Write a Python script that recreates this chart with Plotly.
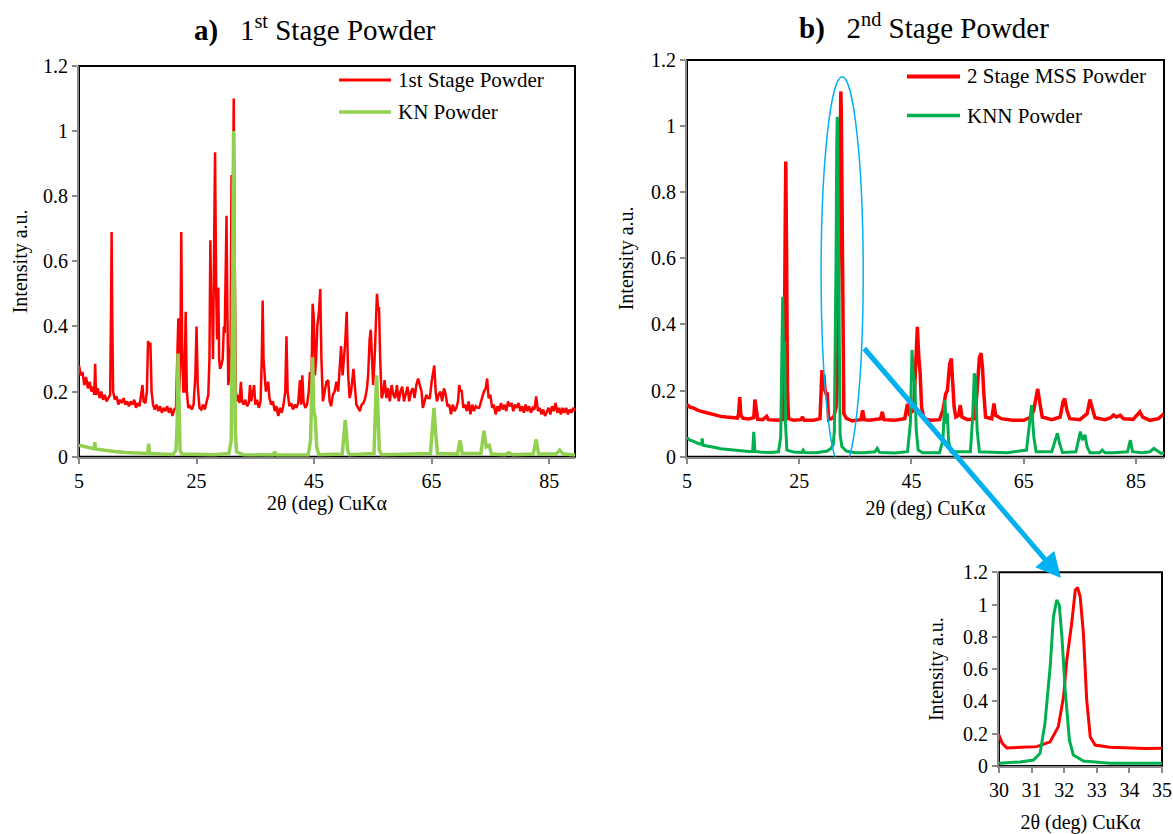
import plotly.graph_objects as go

# ---------------- data ----------------
# a) 1st stage powder vs KN powder
first_stage_x = [5.0, 5.3, 5.6, 5.9, 6.2, 6.5, 6.8, 7.1, 7.4, 7.6, 7.75, 7.9, 8.2, 8.5, 8.8, 9.1, 9.4, 9.7,
                 10.0, 10.3, 10.45, 10.55, 10.65, 10.8, 11.1, 11.4, 11.7, 12.0, 12.3, 12.6, 12.9, 13.2, 13.5,
                 13.8, 14.1, 14.4, 14.7, 15.0, 15.3, 15.6, 15.8, 16.0, 16.3, 16.55, 16.75, 16.95, 17.15, 17.35,
                 17.6, 17.9, 18.2, 18.5, 18.8, 19.1, 19.4, 19.7, 20.0, 20.3, 20.6, 20.9, 21.2, 21.5, 21.75,
                 21.9, 22.05, 22.25, 22.4, 22.55, 22.75, 22.95, 23.15, 23.35, 23.6, 23.9, 24.2, 24.5, 24.8,
                 25.0, 25.2, 25.5, 25.8, 26.1, 26.4, 26.7, 27.0, 27.2, 27.35, 27.5, 27.65, 27.8, 27.95, 28.15,
                 28.35, 28.5, 28.7, 28.85, 29.0, 29.2, 29.45, 29.65, 29.8, 30.0, 30.1, 30.25, 30.4, 30.6,
                 30.8, 30.95, 31.05, 31.2, 31.33, 31.5, 31.7, 31.9, 32.1, 32.3, 32.55, 32.75, 33.0, 33.3,
                 33.6, 33.9, 34.1, 34.3, 34.6, 34.8, 35.0, 35.3, 35.6, 35.9, 36.1, 36.25, 36.4, 36.6, 36.8,
                 37.0, 37.2, 37.4, 37.7, 38.0, 38.3, 38.6, 38.9, 39.2, 39.5, 39.8, 40.1, 40.3, 40.5, 40.8,
                 41.1, 41.4, 41.7, 42.0, 42.3, 42.6, 42.8, 43.0, 43.2, 43.5, 43.8, 44.1, 44.3, 44.55, 44.75,
                 44.95, 45.15, 45.35, 45.55, 45.85, 46.05, 46.25, 46.5, 46.8, 47.1, 47.4, 47.65, 47.9, 48.2,
                 48.5, 48.8, 49.1, 49.35, 49.6, 49.85, 50.1, 50.3, 50.55, 50.8, 51.05, 51.3, 51.7, 51.95,
                 52.2, 52.5, 52.8, 53.1, 53.4, 53.7, 54.0, 54.2, 54.45, 54.65, 54.85, 55.05, 55.3, 55.5,
                 55.7, 55.9, 56.05, 56.25, 56.5, 56.8, 57.0, 57.3, 57.6, 57.9, 58.2, 58.5, 58.8, 59.1, 59.4,
                 59.7, 60.0, 60.3, 60.6, 60.9, 61.2, 61.5, 61.8, 62.1, 62.4, 62.7, 63.0, 63.3, 63.5, 63.8,
                 64.1, 64.4, 64.7, 65.0, 65.2, 65.45, 65.7, 65.9, 66.2, 66.5, 66.8, 67.1, 67.4, 67.7, 68.0,
                 68.3, 68.6, 68.9, 69.2, 69.5, 69.7, 69.9, 70.1, 70.4, 70.7, 71.0, 71.3, 71.6, 71.9, 72.2,
                 72.5, 72.8, 73.1, 73.4, 73.7, 73.9, 74.2, 74.45, 74.7, 75.0, 75.3, 75.6, 75.9, 76.2, 76.5,
                 76.8, 77.1, 77.4, 77.7, 78.0, 78.3, 78.6, 78.9, 79.2, 79.5, 79.8, 80.1, 80.4, 80.7, 81.0,
                 81.3, 81.6, 81.9, 82.2, 82.5, 82.8, 83.1, 83.4, 83.7, 84.0, 84.3, 84.6, 84.9, 85.2, 85.5,
                 85.8, 86.1, 86.4, 86.7, 87.0, 87.3, 87.6, 87.9, 88.2, 88.5, 88.8, 89.1, 89.4]
first_stage_y = [0.28, 0.25, 0.26, 0.22, 0.245, 0.21, 0.23, 0.2, 0.215, 0.19, 0.285, 0.19, 0.21, 0.18, 0.2,
                 0.175, 0.19, 0.17, 0.18, 0.19, 0.45, 0.69, 0.45, 0.2, 0.175, 0.185, 0.16, 0.175, 0.165, 0.18,
                 0.16, 0.17, 0.155, 0.17, 0.16, 0.175, 0.15, 0.165, 0.155, 0.19, 0.22, 0.17, 0.165, 0.2, 0.355,
                 0.34, 0.35, 0.2, 0.16, 0.145, 0.16, 0.14, 0.155, 0.135, 0.15, 0.14, 0.155, 0.135, 0.15, 0.125,
                 0.145, 0.15, 0.3, 0.425, 0.2, 0.3, 0.69, 0.35, 0.2, 0.2, 0.445, 0.2, 0.15, 0.155, 0.145, 0.16,
                 0.25, 0.4, 0.22, 0.15, 0.145, 0.16, 0.145, 0.17, 0.19, 0.3, 0.665, 0.45, 0.48, 0.3, 0.5, 0.935,
                 0.5, 0.36, 0.52, 0.3, 0.27, 0.28, 0.3, 0.4, 0.38, 0.6, 0.74, 0.45, 0.22, 0.25, 0.35, 0.865, 0.5,
                 0.8, 1.1, 0.6, 0.2, 0.17, 0.19, 0.165, 0.23, 0.17, 0.16, 0.175, 0.155, 0.165, 0.22, 0.17, 0.2,
                 0.22, 0.16, 0.175, 0.15, 0.17, 0.3, 0.48, 0.3, 0.26, 0.2, 0.22, 0.23, 0.18, 0.16, 0.17, 0.14,
                 0.155, 0.125, 0.15, 0.135, 0.16, 0.2, 0.37, 0.2, 0.155, 0.165, 0.145, 0.16, 0.15, 0.165, 0.235,
                 0.16, 0.25, 0.17, 0.15, 0.16, 0.2, 0.26, 0.22, 0.47, 0.43, 0.25, 0.3, 0.4, 0.45, 0.515, 0.3,
                 0.17, 0.2, 0.23, 0.235, 0.17, 0.155, 0.19, 0.2, 0.23, 0.2, 0.27, 0.34, 0.25, 0.3, 0.35, 0.445,
                 0.25, 0.18, 0.2, 0.27, 0.2, 0.16, 0.15, 0.14, 0.16, 0.165, 0.18, 0.21, 0.25, 0.36, 0.39, 0.3,
                 0.22, 0.3, 0.42, 0.5, 0.45, 0.46, 0.3, 0.18, 0.2, 0.235, 0.18, 0.21, 0.17, 0.22, 0.19, 0.18,
                 0.22, 0.17, 0.2, 0.215, 0.17, 0.19, 0.215, 0.17, 0.2, 0.21, 0.18, 0.22, 0.24, 0.22, 0.2, 0.15,
                 0.17, 0.19, 0.18, 0.18, 0.23, 0.25, 0.28, 0.2, 0.17, 0.19, 0.2, 0.17, 0.21, 0.19, 0.155, 0.16,
                 0.13, 0.16, 0.14, 0.15, 0.17, 0.22, 0.2, 0.205, 0.15, 0.16, 0.14, 0.17, 0.13, 0.16, 0.14,
                 0.155, 0.15, 0.15, 0.17, 0.19, 0.2, 0.21, 0.24, 0.18, 0.19, 0.15, 0.16, 0.13, 0.155, 0.14,
                 0.165, 0.145, 0.16, 0.14, 0.17, 0.155, 0.165, 0.14, 0.16, 0.15, 0.165, 0.14, 0.155, 0.135,
                 0.16, 0.14, 0.155, 0.135, 0.15, 0.145, 0.185, 0.14, 0.15, 0.13, 0.145, 0.125, 0.14, 0.15,
                 0.13, 0.155, 0.14, 0.165, 0.135, 0.15, 0.13, 0.15, 0.135, 0.15, 0.13, 0.145, 0.135, 0.15, 0.14]

kn_x = [5.0, 6.0, 7.0, 7.6, 7.7, 7.8, 9.0, 11.0, 13.0, 15.0, 16.7, 16.85, 17.0, 19.0, 21.0, 21.5, 21.7,
        21.85, 22.0, 22.2, 22.5, 25.0, 28.0, 30.5, 30.9, 31.1, 31.3, 31.45, 31.6, 31.8, 33.0, 38.0, 38.3,
        38.6, 44.0, 44.4, 44.6, 44.75, 44.95, 45.2, 45.45, 45.8, 49.8, 50.1, 50.3, 50.5, 50.7, 51.0, 55.2,
        55.45, 55.65, 55.85, 56.1, 56.5, 64.8, 65.1, 65.4, 65.7, 66.0, 69.4, 69.85, 70.2, 73.4, 73.9, 74.3,
        74.8, 75.2, 77.5, 78.1, 78.8, 82.3, 82.8, 83.2, 86.2, 86.8, 87.4, 89.4]
kn_y = [0.035, 0.03, 0.027, 0.025, 0.045, 0.024, 0.02, 0.016, 0.013, 0.011, 0.01, 0.04, 0.01, 0.008, 0.007,
        0.02, 0.1, 0.317, 0.12, 0.02, 0.008, 0.006, 0.006, 0.01, 0.05, 0.4, 1.0, 0.5, 0.08, 0.015, 0.006,
        0.005, 0.015, 0.005, 0.005, 0.05, 0.2, 0.305, 0.14, 0.12, 0.03, 0.006, 0.008, 0.06, 0.113, 0.075,
        0.02, 0.006, 0.01, 0.15, 0.25, 0.15, 0.02, 0.006, 0.01, 0.08, 0.15, 0.07, 0.01, 0.008, 0.05, 0.01,
        0.01, 0.08, 0.03, 0.035, 0.008, 0.006, 0.012, 0.006, 0.008, 0.053, 0.008, 0.008, 0.02, 0.008, 0.005]

# b) 2nd stage MSS powder vs KNN powder
mss_x = [5.0, 5.5, 6.0, 7.0, 8.0, 9.0, 10.0, 11.0, 12.0, 13.0, 14.0, 14.2, 14.4, 14.6, 15.0, 16.0, 16.9,
         17.1, 17.35, 17.6, 18.5, 19.2, 19.5, 21.0, 22.0, 22.3, 22.5, 22.6, 22.75, 22.9, 23.1, 24.0, 25.3,
         25.6, 25.9, 27.5, 28.7, 28.9, 29.05, 29.2, 29.4, 29.6, 29.8, 30.0, 30.1, 30.24, 30.65, 31.16,
         31.57, 31.82, 31.98, 32.08, 32.23, 32.34, 32.41, 32.49, 32.59, 32.69, 32.8, 32.95, 33.4, 34.0,
         34.5, 35.0, 36.0, 36.3, 36.6, 37.5, 39.5, 39.8, 40.1, 42.0, 43.8, 44.3, 44.6, 45.4, 45.8, 46.05,
         46.3, 46.55, 46.8, 47.2, 48.5, 50.0, 50.6, 50.9, 51.1, 51.4, 51.8, 52.1, 52.35, 52.6, 52.9, 53.4,
         53.7, 54.0, 55.0, 56.3, 56.7, 57.1, 57.4, 57.65, 57.9, 58.2, 59.3, 59.7, 60.0, 61.0, 63.0, 65.0,
         66.3, 66.8, 67.1, 67.5, 67.9, 68.3, 70.0, 71.5, 72.0, 72.3, 72.7, 73.2, 75.0, 76.3, 76.8, 77.2,
         77.7, 79.5, 80.5, 81.0, 81.5, 82.2, 82.8, 84.5, 85.3, 85.7, 86.2, 87.5, 89.0, 90.0]
mss_y = [0.158, 0.15, 0.148, 0.14, 0.135, 0.13, 0.126, 0.122, 0.12, 0.118, 0.117, 0.13, 0.18, 0.125, 0.116,
         0.114, 0.118, 0.173, 0.13, 0.113, 0.112, 0.122, 0.112, 0.11, 0.112, 0.2, 0.7, 0.893, 0.6, 0.2,
         0.115, 0.11, 0.112, 0.12, 0.11, 0.11, 0.115, 0.2, 0.262, 0.2, 0.248, 0.2, 0.19, 0.19, 0.14, 0.112,
         0.115, 0.12, 0.15, 0.244, 0.43, 0.657, 0.884, 1.09, 1.105, 1.05, 0.82, 0.41, 0.18, 0.13, 0.116,
         0.112, 0.108, 0.11, 0.112, 0.14, 0.112, 0.11, 0.115, 0.136, 0.112, 0.11, 0.115, 0.16, 0.13, 0.14,
         0.3, 0.393, 0.3, 0.252, 0.15, 0.115, 0.11, 0.112, 0.14, 0.18, 0.19, 0.2, 0.28, 0.297, 0.24, 0.15,
         0.12, 0.125, 0.156, 0.12, 0.112, 0.115, 0.2, 0.3, 0.313, 0.27, 0.19, 0.12, 0.115, 0.161, 0.125,
         0.115, 0.11, 0.11, 0.12, 0.141, 0.17, 0.205, 0.16, 0.12, 0.112, 0.12, 0.165, 0.176, 0.14, 0.115,
         0.112, 0.13, 0.173, 0.15, 0.118, 0.112, 0.118, 0.126, 0.12, 0.125, 0.115, 0.113, 0.13, 0.136, 0.12,
         0.11, 0.115, 0.13]

knn_x = [5.0, 5.5, 6.0, 7.0, 7.6, 7.7, 7.85, 9.0, 10.0, 11.0, 12.0, 13.0, 14.0, 15.0, 16.0, 16.7, 16.9,
         17.1, 18.0, 20.0, 21.3, 21.7, 21.9, 22.05, 22.2, 22.4, 22.55, 22.8, 24.0, 25.5, 25.7, 26.0, 28.0,
         30.0, 30.65, 31.06, 31.26, 31.41, 31.57, 31.67, 31.77, 31.85, 31.93, 32.03, 32.16, 32.28, 32.59,
         33.4, 35.0, 36.5, 38.5, 38.9, 39.3, 42.0, 44.3, 44.8, 45.1, 45.3, 45.6, 45.85, 46.2, 47.0, 50.0,
         50.6, 50.95, 51.2, 51.4, 51.6, 52.0, 55.5, 55.9, 56.2, 56.4, 56.7, 57.1, 60.0, 62.0, 65.5, 66.0,
         66.4, 66.8, 67.2, 70.0, 70.6, 71.0, 71.4, 71.9, 74.3, 74.8, 75.1, 75.45, 75.9, 76.3, 76.8, 78.5,
         79.0, 79.5, 81.0, 83.5, 84.0, 84.4, 86.0, 87.5, 88.2, 88.8, 89.5, 90.0]
knn_y = [0.058, 0.05, 0.048, 0.04, 0.038, 0.055, 0.035, 0.03, 0.028, 0.024, 0.022, 0.02, 0.018, 0.017,
         0.016, 0.016, 0.075, 0.016, 0.014, 0.013, 0.015, 0.06, 0.3, 0.484, 0.3, 0.35, 0.1, 0.02, 0.014,
         0.013, 0.02, 0.013, 0.012, 0.017, 0.025, 0.037, 0.078, 0.264, 0.615, 0.925, 1.028, 0.997, 0.8,
         0.47, 0.16, 0.068, 0.031, 0.017, 0.012, 0.012, 0.015, 0.025, 0.013, 0.011, 0.015, 0.1, 0.323, 0.25,
         0.222, 0.08, 0.02, 0.012, 0.012, 0.05, 0.171, 0.1, 0.131, 0.05, 0.015, 0.015, 0.12, 0.252, 0.24,
         0.08, 0.015, 0.012, 0.012, 0.02, 0.1, 0.156, 0.06, 0.015, 0.015, 0.05, 0.071, 0.04, 0.013, 0.015,
         0.06, 0.076, 0.05, 0.066, 0.03, 0.012, 0.012, 0.02, 0.012, 0.012, 0.015, 0.05, 0.015, 0.012, 0.015,
         0.025, 0.018, 0.01, 0.012]

y_ticks = [0, 0.2, 0.4, 0.6, 0.8, 1.0, 1.2]
y_tick_text = ["0", "0.2", "0.4", "0.6", "0.8", "1", "1.2"]
x_ticks_main = [5, 25, 45, 65, 85]
x_ticks_zoom = [30, 31, 32, 33, 34, 35]

# ---------------- styling ----------------
RED = "#FF0000"
LIGHT_GREEN = "#92D050"
GREEN = "#00B050"
CYAN = "#00B0F0"
GREY = "#898989"
FONT = "Times New Roman, Liberation Serif, serif"
W, H = 1173, 834

fig = go.Figure()

fig.add_trace(go.Scatter(x=first_stage_x, y=first_stage_y, mode="lines", name="1st Stage Powder",
                         line=dict(color=RED, width=2.5), xaxis="x", yaxis="y", showlegend=False))
fig.add_trace(go.Scatter(x=kn_x, y=kn_y, mode="lines", name="KN Powder",
                         line=dict(color=LIGHT_GREEN, width=3.5), xaxis="x", yaxis="y", showlegend=False))
fig.add_trace(go.Scatter(x=mss_x, y=mss_y, mode="lines", name="2 Stage MSS Powder",
                         line=dict(color=RED, width=3.5), xaxis="x2", yaxis="y2", showlegend=False))
fig.add_trace(go.Scatter(x=knn_x, y=knn_y, mode="lines", name="KNN Powder",
                         line=dict(color=GREEN, width=3), xaxis="x2", yaxis="y2", showlegend=False))
# enlarged view of the main perovskite peak
fig.add_trace(go.Scatter(x=mss_x, y=mss_y, mode="lines", name="2 Stage MSS Powder",
                         line=dict(color=RED, width=3), xaxis="x3", yaxis="y3", showlegend=False))
fig.add_trace(go.Scatter(x=knn_x, y=knn_y, mode="lines", name="KNN Powder",
                         line=dict(color=GREEN, width=3), xaxis="x3", yaxis="y3", showlegend=False))


def px_x(p):
    return p / W


def px_y(p):
    return 1 - p / H


tick_font = dict(family=FONT, size=20, color="black")
title_font = dict(family=FONT, size=20, color="black")

common_x = dict(showgrid=False, zeroline=False, showline=True, linecolor=GREY, linewidth=2,
                ticks="outside", ticklen=5, tickcolor=GREY, tickwidth=1.5, tickfont=tick_font,
                automargin=False)
common_y = dict(showgrid=False, zeroline=False, showline=True, linecolor=GREY, linewidth=2,
                ticks="outside", ticklen=5, tickcolor=GREY, tickwidth=1.5, tickfont=tick_font,
                automargin=False, range=[0, 1.2], tickvals=y_ticks, ticktext=y_tick_text)

fig.update_layout(
    width=W, height=H, autosize=False,
    margin=dict(l=0, r=0, t=0, b=0, pad=0),
    paper_bgcolor="white", plot_bgcolor="white",
    font=dict(family=FONT, color="black"),
    xaxis=dict(domain=[px_x(79), px_x(575)], range=[5, 89.4], tickvals=x_ticks_main, anchor="y",
               title=dict(text="2θ (deg) CuKα", font=title_font, standoff=0), **common_x),
    yaxis=dict(domain=[px_y(456.7), px_y(66)], anchor="x",
               title=dict(text="Intensity a.u.", font=title_font, standoff=10), **common_y),
    xaxis2=dict(domain=[px_x(687), px_x(1164)], range=[5, 90], tickvals=x_ticks_main, anchor="y2",
                title=dict(text="2θ (deg) CuKα", font=title_font, standoff=10), **common_x),
    yaxis2=dict(domain=[px_y(456.7), px_y(60)], anchor="x2",
                title=dict(text="Intensity a.u.", font=title_font, standoff=12), **common_y),
    xaxis3=dict(domain=[px_x(999), px_x(1162)], range=[30, 35], tickvals=x_ticks_zoom, anchor="y3",
                title=dict(text="2θ (deg) CuKα", font=title_font, standoff=16), **common_x),
    yaxis3=dict(domain=[px_y(766), px_y(572.3)], anchor="x3",
                title=dict(text="Intensity a.u.", font=title_font, standoff=14), **common_y),
)

# black frame along the top and right of each plot area
shapes = []
for xr, yr in (("x", "y"), ("x2", "y2"), ("x3", "y3")):
    shapes.append(dict(type="rect", xref=f"{xr} domain", yref=f"{yr} domain", x0=0, x1=1, y0=0, y1=1,
                       line=dict(color="black", width=2), layer="below"))

# ellipse around the main reflection in panel b
shapes.append(dict(type="circle", xref="x2", yref="y2", x0=28.9, x1=36.4, y0=-0.037, y1=1.149,
                   line=dict(color=CYAN, width=1.5), layer="above"))

# legends: sample line + label
legend_items = [
    (339, 391, 80, RED, 3, "1st Stage Powder"),
    (339, 391, 112, LIGHT_GREEN, 3.5, "KN Powder"),
    (907, 960, 76.5, RED, 4, "2 Stage MSS Powder"),
    (907, 960, 115.5, GREEN, 3.5, "KNN Powder"),
]
annotations = []
for x0, x1, yy, col, wd, label in legend_items:
    shapes.append(dict(type="line", xref="paper", yref="paper", x0=px_x(x0), x1=px_x(x1),
                       y0=px_y(yy), y1=px_y(yy), line=dict(color=col, width=wd)))
    annotations.append(dict(xref="paper", yref="paper", x=px_x(x1 + 5), y=px_y(yy), text=label,
                            showarrow=False, xanchor="left", yanchor="middle",
                            font=dict(family=FONT, size=21, color="black")))

# panel titles
annotations.append(dict(xref="paper", yref="paper", x=px_x(315), y=px_y(28),
                        text="<b>a)</b>\u00a0\u00a0\u00a01<sup>st</sup> Stage Powder", showarrow=False,
                        xanchor="center", yanchor="middle", font=dict(family=FONT, size=29, color="black")))
annotations.append(dict(xref="paper", yref="paper", x=px_x(924), y=px_y(26),
                        text="<b>b)</b>\u00a0\u00a0\u00a02<sup>nd</sup> Stage Powder", showarrow=False,
                        xanchor="center", yanchor="middle", font=dict(family=FONT, size=29, color="black")))

# arrow pointing from the ellipse to the enlarged view
annotations.append(dict(xref="paper", yref="paper", x=px_x(1061), y=px_y(578), ax=863 - 1061, ay=347 - 578,
                        axref="pixel", ayref="pixel", text="", showarrow=True, arrowhead=2, arrowsize=1.0,
                        arrowwidth=5, arrowcolor=CYAN))

fig.update_layout(shapes=shapes, annotations=annotations)

fig.write_html("out.html")
